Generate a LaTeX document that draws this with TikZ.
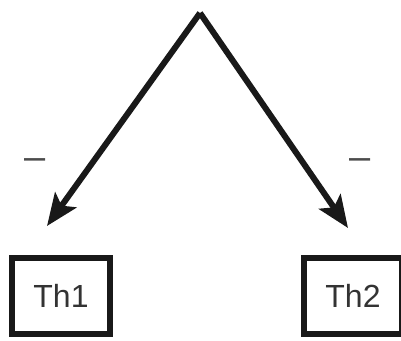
\documentclass[tikz,border=0pt]{standalone}
\usepackage{fontspec}
\setmainfont{Liberation Sans}
\usetikzlibrary{positioning, arrows.meta}

\begin{document}
\begin{tikzpicture}[x=1pt, y=-1pt,
        thr/.style = {draw=black!90, line width=6pt, minimum width=98pt, minimum height=76pt,
                      inner sep=0pt, text=black!80, font=\fontsize{32}{32}\selectfont},
        sign/.style = {text=black!70, inner sep=0pt, font=\fontsize{38}{38}\selectfont},
        arr/.style = {draw=black!90, line width=6pt,
                      -{Stealth[length=32pt, width=26pt, inset=7pt]}}]
        \useasboundingbox (0,0) rectangle (401,340);

        \coordinate (top) at (200,13);
        \node[thr] (th1) at (61,296) {Th1};
        \node[thr] (th2) at (353,296) {Th2};
        \coordinate (tip1) at (47,226);
        \coordinate (tip2) at (348,228);

        \draw[arr] (top) -- (tip1);
        \draw[arr] (top) -- (tip2);

        \node[sign] (m1) at (35,164) {–};
        \node[sign] (m2) at (360,164) {–};
      \end{tikzpicture}
\end{document}
